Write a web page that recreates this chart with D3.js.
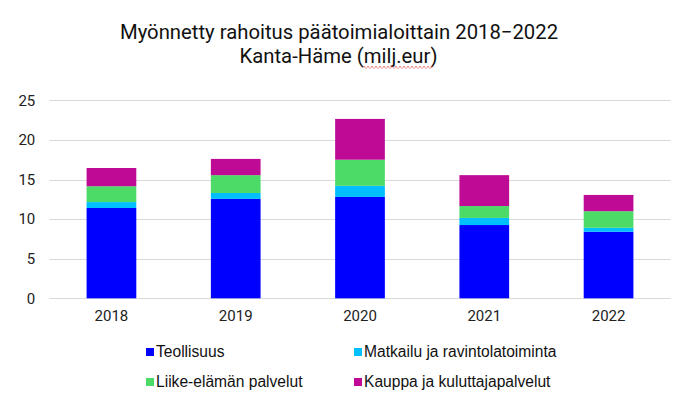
<!DOCTYPE html>
<html lang="fi">
<head>
<meta charset="UTF-8">
<script src="https://d3js.org/d3.v7.min.js"></script>
<style>
  body { margin: 0; background: #fff; }
  text { font-family: Roboto, "Liberation Sans", Arial, sans-serif; fill: #222; }
</style>
</head>
<body>
<div id="chart"></div>
<script>
const years = ["2018", "2019", "2020", "2021", "2022"]
const seriesNames = ["Teollisuus", "Matkailu ja ravintolatoiminta", "Liike-elämän palvelut", "Kauppa ja kuluttajapalvelut"]
const teollisuus = [11.4, 12.55, 12.8, 9.25, 8.4]
const matkailu = [0.75, 0.75, 1.4, 0.9, 0.5]
const liike = [2.0, 2.25, 3.3, 1.5, 2.1]
const kauppa = [2.3, 2.05, 5.15, 3.9, 2.05]
const yTicks = [0, 5, 10, 15, 20, 25]
const colors = ["#0000ff", "#00bfff", "#4cdb66", "#be0a94"]

const W = 700, H = 398

const svg = d3.select("#chart").append("svg").attr("width", W).attr("height", H)

// title
const title = svg.append("text").attr("text-anchor", "middle").style("font-size", "20.3px").style("fill", "#111")
title.append("tspan").attr("x", 339).attr("y", 38.5).text("Myönnetty rahoitus päätoimialoittain 2018−2022")
const line2 = title.append("tspan").attr("x", 338.5).attr("y", 63).text("Kanta-Häme (milj.eur)")

// spell-check squiggle under "milj.eur"
let sq = "M363,67.5"
for (let px = 363; px < 432; px += 2) sq += ` L${px + 1},${(px % 4 === 3) ? 66 : 68.5} L${px + 2},67.5`
svg.append("path").attr("d", sq).attr("fill", "none").attr("stroke", "#e04040").attr("stroke-width", 0.8).attr("opacity", 0.8)

const x = d3.scaleBand().domain(years).range([49.3, 670.7]).paddingInner(0.6).paddingOuter(0.3)
const y = d3.scaleLinear().domain([0, 25]).range([298.3, 100.3])

// grid
svg.append("g").selectAll("line").data(yTicks).join("line")
  .attr("x1", 49.3).attr("x2", 670.7)
  .attr("y1", d => Math.round(y(d)) + 0.5).attr("y2", d => Math.round(y(d)) + 0.5)
  .attr("stroke", "#d9d9d9").attr("stroke-width", 1)

const yAxis = d3.axisLeft(y).tickValues(yTicks).tickSize(0).tickPadding(14)
svg.append("g").attr("transform", "translate(49.3,0)").call(yAxis)
  .call(g => g.select(".domain").remove())
  .selectAll("text").style("font-size", "15px").style("fill", "#222")

const xAxis = d3.axisBottom(x).tickSize(0).tickPadding(12)
svg.append("g").attr("transform", "translate(0,298.3)").call(xAxis)
  .call(g => g.select(".domain").remove())
  .selectAll("text").style("font-size", "15px").style("fill", "#222")

// stacked bars
const table = years.map((yr, i) => ({year: yr, s0: teollisuus[i], s1: matkailu[i], s2: liike[i], s3: kauppa[i]}))
const stack = d3.stack().keys(["s0", "s1", "s2", "s3"])(table)

svg.append("g").selectAll("g").data(stack).join("g")
  .attr("fill", (d, i) => colors[i])
  .selectAll("rect").data(d => d).join("rect")
  .attr("x", d => x(d.data.year))
  .attr("width", x.bandwidth())
  .attr("y", d => y(d[1]))
  .attr("height", d => y(d[0]) - y(d[1]))

// legend
const legPos = [[146, 352], [354, 352], [146, 382], [354, 382]]
const leg = svg.append("g").selectAll("g").data(seriesNames).join("g")
  .attr("transform", (d, i) => `translate(${legPos[i][0]},${legPos[i][1]})`)
leg.append("rect").attr("x", 0).attr("y", -4).attr("width", 8).attr("height", 8).attr("fill", (d, i) => colors[i])
leg.append("text").attr("x", 10).attr("y", 4.5)
  .style("font-family", "'Liberation Sans', Arial, sans-serif")
  .style("font-size", "15.6px").style("fill", "#111").text(d => d)
</script>
</body>
</html>
